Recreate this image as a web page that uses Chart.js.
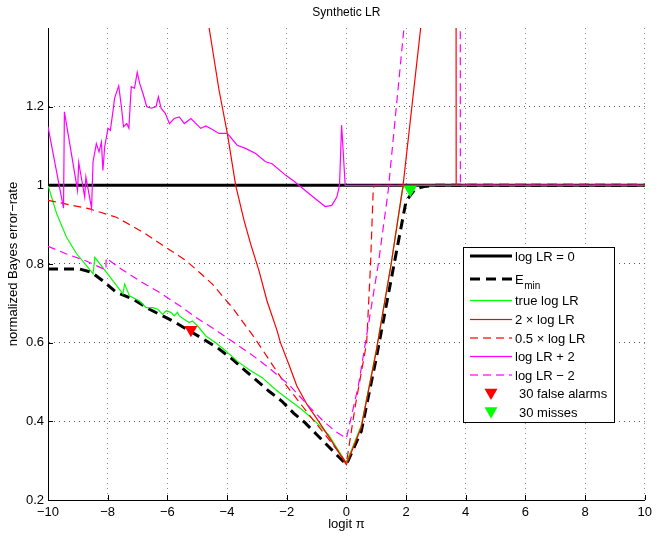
<!DOCTYPE html>
<html>
<head>
    <title>Synthetic LR</title>
    <script src="https://cdn.jsdelivr.net/npm/chart.js"></script>
    <style>
        body { margin: 0; background: #fff; }
        #wrap { width: 657px; height: 535px; }
    </style>
</head>
<body>
    <div id="wrap"><canvas id="dcf" width="657" height="535"></canvas></div>
    <script>
        const FONT = '"Liberation Sans", Arial, Helvetica, sans-serif';

        // axis ticks (prior log-odds / normalized error)
        const xTicks = [-10, -8, -6, -4, -2, 0, 2, 4, 6, 8, 10];
        const yTicks = [0.2, 0.4, 0.6, 0.8, 1, 1.2];

        // default detector: log LR = 0
        const zeroX = [-10, 10];
        const zeroY = [1, 1];

        // minimum (PAV-calibrated) error
        const eminX = [-10, -8.93, -8.54, -8.16, -7.71, -7.16, -6.6, -5.82, -5.66, -4.88, -4.32, -3.82, -3.38, -3.04, -2.6, -2.16, -1.77, -1.38, -0.99, -0.6, -0.21, 0, 0.5, 1.0, 1.5, 2.0, 2.3, 2.6, 3.0, 10];
        const eminY = [0.787, 0.787, 0.779, 0.757, 0.728, 0.711, 0.685, 0.655, 0.648, 0.613, 0.587, 0.558, 0.528, 0.506, 0.477, 0.451, 0.421, 0.396, 0.366, 0.336, 0.306, 0.29, 0.375, 0.56, 0.76, 0.96, 0.99, 0.997, 1.0, 1.0];

        // true log LR
        const trueX = [-10, -9.71, -9.38, -9.04, -8.71, -8.49, -8.43, -8.04, -7.49, -7.43, -7.27, -6.93, -6.71, -6.49, -6.32, -6.16, -6.04, -5.88, -5.77, -5.66, -5.6, -5.45, -5.27, -5.16, -4.99, -4.71, -4.38, -4.04, -3.66, -3.27, -2.82, -2.38, -1.93, -1.49, -1.04, -0.6, -0.21, 0, 0.5, 1.0, 1.5, 1.88, 1.95, 10];
        const trueY = [1.0, 0.928, 0.868, 0.826, 0.796, 0.775, 0.817, 0.779, 0.724, 0.749, 0.719, 0.706, 0.689, 0.689, 0.685, 0.672, 0.681, 0.677, 0.668, 0.677, 0.668, 0.66, 0.651, 0.655, 0.643, 0.617, 0.6, 0.579, 0.553, 0.532, 0.511, 0.481, 0.455, 0.43, 0.4, 0.366, 0.319, 0.294, 0.39, 0.58, 0.8, 0.99, 1.0, 1.0];

        // 2 x log LR
        const dblX = [-4.6, -4.27, -3.99, -3.71, -3.43, -3.21, -2.93, -2.66, -2.32, -2.21, -1.93, -1.66, -1.32, -0.93, -0.49, 0, 0.5, 1.0, 1.5, 1.9, 2.49, 3.0, 3.67, 3.68, 10];
        const dblY = [1.4, 1.243, 1.132, 1.0, 0.911, 0.851, 0.783, 0.706, 0.63, 0.6, 0.545, 0.49, 0.443, 0.4, 0.349, 0.29, 0.385, 0.578, 0.8, 1.0, 1.4, 1.75, 2.2, 1.0, 1.0];

        // 0.5 x log LR
        const halfX = [-10, -8.6, -7.71, -6.82, -6.04, -5.38, -4.93, -4.49, -4.16, -3.82, -3.49, -3.16, -2.82, -2.49, -2.04, -1.6, -1.16, -0.71, -0.27, 0, 0.3, 0.68, 0.81, 0.9, 0.93, 10];
        const halfY = [0.962, 0.94, 0.919, 0.881, 0.842, 0.809, 0.779, 0.749, 0.719, 0.689, 0.655, 0.621, 0.583, 0.545, 0.494, 0.451, 0.408, 0.366, 0.323, 0.294, 0.44, 0.6, 0.8, 0.99, 1.0, 1.0];

        // log LR + 2
        const plusX = [-10, -9.48, -9.45, -9.01, -8.97, -8.77, -8.73, -8.54, -8.49, -8.38, -8.29, -8.21, -8.16, -8.1, -7.99, -7.91, -7.82, -7.77, -7.63, -7.54, -7.47, -7.36, -7.29, -7.21, -7.1, -7.01, -6.93, -6.82, -6.69, -6.54, -6.38, -6.3, -6.21, -6.07, -5.93, -5.77, -5.6, -5.43, -5.21, -4.88, -4.71, -4.49, -4.27, -3.99, -3.66, -3.38, -3.04, -2.71, -2.49, -2.04, -1.71, -1.38, -1.04, -0.71, -0.49, -0.32, -0.23, -0.16, -0.04, 10];
        const plusY = [1.149, 0.942, 1.187, 0.987, 1.058, 0.97, 1.021, 0.942, 1.06, 1.106, 1.085, 1.11, 1.038, 1.098, 1.145, 1.14, 1.19, 1.221, 1.253, 1.2, 1.149, 1.157, 1.145, 1.251, 1.247, 1.287, 1.26, 1.234, 1.2, 1.196, 1.2, 1.225, 1.196, 1.183, 1.157, 1.17, 1.174, 1.157, 1.17, 1.145, 1.151, 1.142, 1.132, 1.132, 1.102, 1.094, 1.081, 1.06, 1.055, 1.026, 1.008, 0.987, 0.966, 0.946, 0.949, 0.97, 1.0, 1.153, 1.0, 1.0];

        // log LR - 2
        const minusX = [-10, -9.4, -8.8, -8.06, -8.05, -7.6, -6.93, -6.27, -5.49, -5.04, -4.6, -3.93, -3.04, -2.6, -1.93, -1.32, -0.82, -0.38, 0, 0.4, 0.64, 1.07, 1.4, 1.93, 3.0, 3.81, 3.82, 10];
        const minusY = [0.845, 0.826, 0.81, 0.785, 0.815, 0.79, 0.757, 0.728, 0.689, 0.664, 0.643, 0.609, 0.562, 0.536, 0.494, 0.443, 0.404, 0.375, 0.357, 0.49, 0.6, 0.8, 0.985, 1.4, 2.2, 2.8, 1.0, 1.0];

        // operating points
        const faX = [-5.21], faY = [0.633];
        const missX = [2.14], missY = [0.989];

        const legendLabels = ['log LR = 0', 'E', 'true log LR', '2 \u00d7 log LR', '0.5 \u00d7 log LR',
                              'log LR + 2', 'log LR \u2212 2', '30 false alarms', '30 misses'];

        // line styles, shared by the curves and the legend
        const styles = [
            { color: '#000000', width: 3, dash: [] },
            { color: '#000000', width: 3, dash: [10, 6] },
            { color: '#00ff00', width: 1.2, dash: [] },
            { color: '#ff0000', width: 1.2, dash: [] },
            { color: '#ff0000', width: 1.2, dash: [8, 5] },
            { color: '#ff00ff', width: 1.2, dash: [] },
            { color: '#ff00ff', width: 1.2, dash: [8, 5] },
            { color: '#ff0000', marker: true },
            { color: '#00ff00', marker: true }
        ];

        const pts = (xs, ys) => xs.map((x, i) => ({ x: x, y: ys[i] }));

        function line(data, st, order) {
            return {
                data: data, borderColor: st.color, backgroundColor: st.color,
                borderWidth: st.width, borderDash: st.dash.slice(), order: order,
                pointRadius: 0, tension: 0, fill: false
            };
        }

        function marker(data, st, order) {
            return {
                data: data, showLine: false, order: order,
                pointStyle: 'triangle', rotation: 180, pointRadius: 7.5,
                backgroundColor: st.color, borderColor: st.color, borderWidth: 0
            };
        }

        // first series ends up at the bottom of the stack
        const datasets = [
            line(pts(zeroX, zeroY), styles[0], 9),
            line(pts(eminX, eminY), styles[1], 8),
            line(pts(trueX, trueY), styles[2], 7),
            line(pts(dblX, dblY), styles[3], 6),
            line(pts(halfX, halfY), styles[4], 5),
            line(pts(plusX, plusY), styles[5], 4),
            line(pts(minusX, minusY), styles[6], 3),
            marker(pts(faX, faY), styles[7], 2),
            marker(pts(missX, missY), styles[8], 1)
        ];

        function triangle(ctx, cx, cy, r, color) {
            ctx.fillStyle = color;
            ctx.beginPath();
            ctx.moveTo(cx - r * 0.866, cy - r / 2);
            ctx.lineTo(cx + r * 0.866, cy - r / 2);
            ctx.lineTo(cx, cy + r);
            ctx.closePath();
            ctx.fill();
        }

        // legend sample: solid bar, or a row of dashes
        function sample(ctx, x0, x1, y, st) {
            ctx.fillStyle = st.color;
            const h = st.width;
            if (!st.dash.length) {
                ctx.fillRect(x0, y - h / 2, x1 - x0, h);
                return;
            }
            const [on, off] = st.dash;
            for (let p = x0; p < x1; p += on + off) {
                ctx.fillRect(p, y - h / 2, Math.min(on, x1 - p), h);
            }
        }

        const decor = {
            id: 'decor',
            afterDraw(chart) {
                const { ctx, chartArea: a, scales: { x, y } } = chart;
                ctx.save();

                // tick marks pointing into the axes
                ctx.strokeStyle = '#000';
                ctx.lineWidth = 1;
                ctx.setLineDash([]);
                ctx.beginPath();
                xTicks.forEach(v => {
                    const p = Math.round(x.getPixelForValue(v)) + 0.5;
                    ctx.moveTo(p, a.bottom);
                    ctx.lineTo(p, a.bottom - 5);
                });
                yTicks.forEach(v => {
                    const p = Math.round(y.getPixelForValue(v)) + 0.5;
                    ctx.moveTo(a.left, p);
                    ctx.lineTo(a.left + 5, p);
                });
                ctx.stroke();

                // title and axis labels
                const cx = (a.left + a.right) / 2;
                ctx.fillStyle = '#000';
                ctx.textAlign = 'center';
                ctx.textBaseline = 'middle';
                ctx.font = '12px ' + FONT;
                ctx.fillText('Synthetic LR', cx, 13);
                ctx.font = '13px ' + FONT;
                ctx.fillText('logit \u03c0', cx, 524);
                ctx.save();
                ctx.translate(13, 264);
                ctx.rotate(-Math.PI / 2);
                ctx.fillText('normalized Bayes error\u2212rate', 0, 0);
                ctx.restore();

                // legend box
                const L = 463, T = 247, R = 614, B = 422;
                ctx.fillStyle = '#fff';
                ctx.fillRect(L, T, R - L, B - T);
                ctx.strokeStyle = '#000';
                ctx.lineWidth = 1;
                ctx.strokeRect(L + 0.5, T + 0.5, R - L, B - T);

                const rows = [256, 279, 300.5, 319.5, 338, 356.5, 375, 393.5, 412];
                ctx.textAlign = 'left';
                ctx.font = '13px ' + FONT;
                legendLabels.forEach((label, i) => {
                    const st = styles[i];
                    const ry = rows[i];
                    if (st.marker) {
                        triangle(ctx, 491, ry - 1, 7.5, st.color);
                        ctx.fillStyle = '#000';
                        ctx.fillText(label, 519, ry + 1);
                        return;
                    }
                    sample(ctx, 470, 512, ry, st);
                    ctx.fillStyle = '#000';
                    ctx.fillText(label, 515, ry + 1);
                    if (i === 1) {
                        const w = ctx.measureText(label).width;
                        ctx.font = '10px ' + FONT;
                        ctx.fillText('min', 515 + w + 0.5, ry + 7);
                        ctx.font = '13px ' + FONT;
                    }
                });
                ctx.restore();
            }
        };

        const tickFont = { family: FONT, size: 13 };

        new Chart(document.getElementById('dcf'), {
            type: 'line',
            data: { datasets: datasets },
            options: {
                responsive: false,
                animation: false,
                events: [],
                layout: { padding: { top: 28, right: 9, left: 0, bottom: 0 } },
                plugins: { legend: { display: false }, tooltip: { enabled: false } },
                scales: {
                    x: {
                        type: 'linear', min: -10, max: 10,
                        afterBuildTicks: s => { s.ticks = xTicks.map(v => ({ value: v })); },
                        afterFit: s => { s.height = 35; },
                        ticks: {
                            font: tickFont, color: '#000', padding: 5, maxRotation: 0, autoSkip: false,
                            callback: v => (v < 0 ? '\u2212' + Math.abs(v) : String(v))
                        },
                        grid: { color: '#8c8c8c', lineWidth: 1, drawTicks: false },
                        border: { display: true, color: '#000', width: 1, dash: [1, 4] }
                    },
                    y: {
                        type: 'linear', min: 0.2, max: 1.4,
                        afterBuildTicks: s => { s.ticks = yTicks.map(v => ({ value: v })); },
                        afterFit: s => { s.width = 48; },
                        ticks: {
                            font: tickFont, color: '#000', padding: 4,
                            callback: v => String(Math.round(v * 10) / 10)
                        },
                        grid: { color: '#555', lineWidth: 1, drawTicks: false },
                        border: { display: true, color: '#000', width: 1, dash: [1, 4] }
                    }
                }
            },
            plugins: [decor]
        });
    </script>
</body>
</html>
